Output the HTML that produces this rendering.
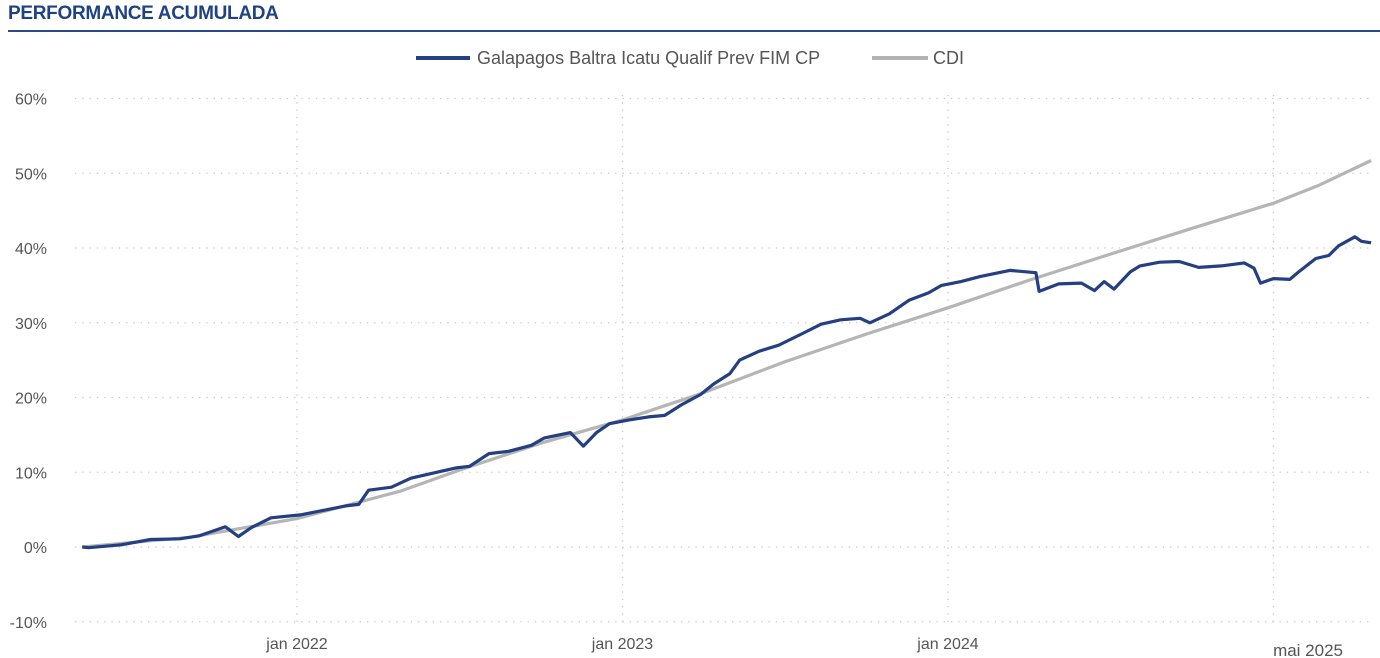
<!DOCTYPE html>
<html><head><meta charset="utf-8"><style>
body{margin:0;background:#fff;width:1380px;height:658px;overflow:hidden;font-family:"Liberation Sans Narrow","Liberation Sans",sans-serif;}
#title{position:absolute;left:8px;top:3px;font-size:19px;font-weight:bold;color:#1f4283;letter-spacing:-0.3px}
#rule{position:absolute;left:8px;top:30px;width:1372px;height:2px;background:#2b4a8b}
svg{position:absolute;left:0;top:0}
text{font-family:"Liberation Sans Narrow","Liberation Sans",sans-serif;fill:#555}
</style></head><body>
<div id="title">PERFORMANCE ACUMULADA</div>
<div id="rule"></div>
<svg id="chart" width="1380" height="658">
<g>
<g><line x1="416" y1="58" x2="470" y2="58" stroke="#243f82" stroke-width="4"/><text x="477" y="64" font-size="18">Galapagos Baltra Icatu Qualif Prev FIM CP</text></g>
<g><line x1="872" y1="58" x2="928" y2="58" stroke="#b3b3b3" stroke-width="4"/><text x="933" y="64" font-size="18">CDI</text></g>
</g>
<g id="grid"></g>
<g id="axes"></g>
<g id="series"></g>
</svg>
<script>
const yTicks=[-10,0,10,20,30,40,50,60];
const xTickYears=[2022,2023,2024,2025];
const xTickLabels=["jan 2022","jan 2023","jan 2024",""];
const endLabel="mai 2025";
const fundT=[2021.34,2021.36,2021.46,2021.55,2021.64,2021.70,2021.78,2021.82,2021.86,2021.92,2022.01,2022.07,2022.15,2022.19,2022.22,2022.29,2022.35,2022.41,2022.49,2022.53,2022.59,2022.65,2022.72,2022.76,2022.84,2022.88,2022.92,2022.96,2023.02,2023.08,2023.13,2023.18,2023.24,2023.28,2023.33,2023.36,2023.42,2023.48,2023.55,2023.61,2023.67,2023.73,2023.76,2023.82,2023.88,2023.94,2023.98,2024.04,2024.10,2024.19,2024.27,2024.28,2024.34,2024.41,2024.45,2024.48,2024.51,2024.56,2024.59,2024.65,2024.71,2024.77,2024.84,2024.91,2024.94,2024.96,2025.00,2025.05,2025.08,2025.13,2025.17,2025.20,2025.25,2025.27,2025.30];
const fundV=[0,-0.1,0.3,1.0,1.1,1.5,2.7,1.4,2.6,3.9,4.3,4.8,5.5,5.7,7.6,8.0,9.2,9.8,10.6,10.8,12.5,12.8,13.6,14.6,15.3,13.5,15.3,16.5,17.0,17.4,17.6,19.0,20.4,21.8,23.2,25.0,26.2,27.0,28.5,29.8,30.4,30.6,30.0,31.2,33.0,34.0,35.0,35.5,36.2,37.0,36.7,34.2,35.2,35.3,34.3,35.5,34.5,36.8,37.6,38.1,38.2,37.4,37.6,38.0,37.3,35.3,35.9,35.8,36.9,38.6,39.0,40.3,41.5,40.9,40.7];
const cdiT=[2021.34,2021.67,2022.00,2022.32,2022.50,2022.75,2023.00,2023.24,2023.50,2023.75,2024.00,2024.25,2024.50,2024.74,2025.00,2025.14,2025.30];
const cdiV=[0,1.3,3.8,7.5,10.3,13.9,17.0,20.5,24.8,28.5,32.0,35.7,39.2,42.5,46.0,48.4,51.7];

const X=t=>297+(t-2022)*325.5;
const Y=v=>547-v*7.475;
const NS="http://www.w3.org/2000/svg";
const grid=document.getElementById('grid'),axes=document.getElementById('axes'),series=document.getElementById('series');
function mk(tag,attrs,parent){const e=document.createElementNS(NS,tag);for(const k in attrs)e.setAttribute(k,attrs[k]);parent.appendChild(e);return e;}
yTicks.forEach(v=>{
  const l=mk('line',{x1:75,x2:1370,y1:Y(v),y2:Y(v),stroke:'#c8c8c8','stroke-width':1.3,'stroke-dasharray':'1.3 6'},grid);
  
  
  const t=mk('text',{x:47,y:Y(v)+6,'text-anchor':'end','font-size':16},axes);
  t.textContent=v+'%';
  
  
});
xTickYears.forEach((yr,i)=>{
  const l=mk('line',{x1:X(yr),x2:X(yr),y1:95,y2:625,stroke:'#c8c8c8','stroke-width':1.3,'stroke-dasharray':'1.3 6'},grid);
  
  
  if(xTickLabels[i]){const t=mk('text',{x:X(yr),y:649,'text-anchor':'middle','font-size':16},axes);
  t.textContent=xTickLabels[i];
  
  }
});
const el=mk('text',{x:1343,y:656,'text-anchor':'end','font-size':17},axes);
el.textContent=endLabel;


function path(T,V,color,name){
  const d=T.map((t,i)=>(i?'L':'M')+X(t).toFixed(1)+' '+Y(V[i]).toFixed(1)).join(' ');
  const p=mk('path',{d:d,fill:'none',stroke:color,'stroke-width':3.2,'stroke-linejoin':'round'},series);
  
  
}
path(cdiT,cdiV,'#b5b5b5','cdi-line');
path(fundT,fundV,'#243f82','fund-line');
</script>
</body></html>
